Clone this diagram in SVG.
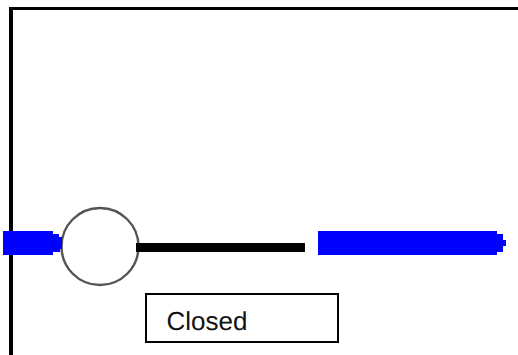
<svg xmlns="http://www.w3.org/2000/svg" width="518" height="355" viewBox="0 0 518 355">
<style>
.wire{fill:#000;shape-rendering:crispEdges}
.blue{fill:#00f;shape-rendering:crispEdges}
.label{font-family:"Liberation Sans",Arial,sans-serif;font-size:26px;fill:#111;text-rendering:geometricPrecision}
</style>
<rect width="518" height="355" fill="#fff"/>
<g id="switch-circle">
<circle cx="100" cy="246.5" r="38.5" fill="#fff" stroke="#555" stroke-width="2.4"/>
</g>
<g id="connectors">
<rect class="wire" x="9" y="7" width="4" height="348"/>
<rect class="wire" x="9" y="7" width="509" height="3"/>
<rect class="wire" x="136" y="243" width="169" height="9"/>
</g>
<g id="left-contact">
<path class="blue" d="M3 231H53V234H59V237H62V249H60V252H53V255H3Z"/>
</g>
<g id="right-contact">
<path class="blue" d="M318 231H497V234H503V240H506V246H503V252H497V255H318Z"/>
</g>
<g id="status">
<rect x="146" y="294" width="192" height="48" fill="#fff" stroke="#000" stroke-width="2"/>
<text class="label" x="166.5" y="330">Closed</text>
</g>
</svg>
